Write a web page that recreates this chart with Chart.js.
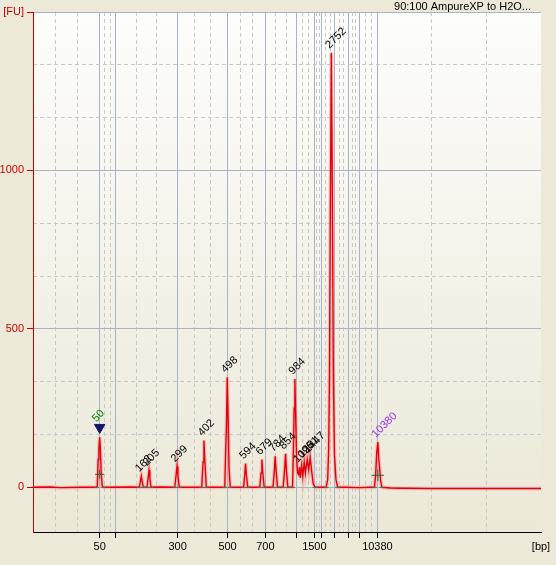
<!DOCTYPE html>
<html><head><meta charset="utf-8">
<script src="https://cdn.jsdelivr.net/npm/chart.js@4/dist/chart.umd.min.js"></script>
<style>html,body{margin:0;padding:0;background:#ECE9D8;overflow:hidden}canvas{display:block}</style>
</head><body>
<canvas id="c" width="556" height="565"></canvas>
<script>
// ---- data (migration time in s, fluorescence in FU) ----
const sampleTitle = '90:100 AmpureXP to H2O...';
const ladderBp   = [50, 100, 300, 500, 700, 1000, 1500, 2000, 3000, 5000, 7000, 10380];
const ladderTime = [50.50, 53.00, 62.77, 70.64, 76.60, 81.53, 84.31, 85.43, 87.49, 89.66, 91.39, 94.24];
const xTickLabels = ['50', '', '300', '500', '700', '', '1500', '', '', '', '', '10380'];
const xUnitLabel = '[bp]';
const yTicks = [0, 500, 1000, 1500];
const yTickLabels = ['0', '500', '1000', '[FU]'];

const traceTime = [40.00,42.74,44.31,47.46,49.98,50.13,50.26,50.37,50.50,50.61,50.73,50.89,51.08,52.18,55.33,
  56.74,56.93,57.06,57.18,57.37,57.95,58.14,58.27,58.40,58.58,60.05,62.33,62.53,62.68,62.82,63.04,64.77,
  66.58,66.78,66.92,67.07,67.29,68.70,70.20,70.32,70.47,70.59,70.73,70.87,71.06,72.01,
  73.16,73.35,73.47,73.60,73.82,74.84,75.71,75.91,76.05,76.19,76.41,77.04,77.80,78.00,78.14,78.29,78.51,
  79.40,79.62,79.77,79.91,80.13,80.87,81.01,81.13,81.24,81.37,81.51,81.68,81.84,81.97,82.11,82.31,82.49,
  82.71,82.90,83.18,83.42,83.65,83.89,84.12,84.44,85.23,86.17,86.41,86.56,86.69,86.83,86.99,87.15,87.30,
  87.48,87.71,87.98,89.16,91.52,93.09,93.77,93.96,94.13,94.31,94.45,94.59,94.75,94.94,96.24,97.81,102.54,110.00,120.00];
const traceFU = [0,1,-1,0,0,5,88,120,158,120,50,5,0,0,1,
  0,20,35,20,0,0,30,54,30,0,1,0,38,66,38,0,0,
  0,80,148,80,0,0,0,100,200,347,220,60,0,0,
  0,40,75,40,0,0,0,45,88,45,0,0,0,50,98,50,0,
  0,55,106,55,0,0,120,250,342,220,90,45,40,64,30,69,35,
  80,45,88,55,95,50,12,0,0,0,25,120,350,900,1371,900,350,
  100,25,0,0,-1,0,0,40,110,143,90,60,20,0,-2,-3,-4,-4,-4];

const peakLabels = ['50','162','205','299','402','498','594','679','784','854','984','1096','1251','1447','2752','10380'];
const peakTime   = [50.50,57.06,58.27,62.68,66.92,70.59,73.47,76.05,78.14,79.77,81.24,81.97,82.71,83.65,86.99,94.31];
const peakFU     = [158,35,54,66,148,347,75,88,98,106,342,64,80,95,1371,143];

const lowerMarker = {label: '50', time: 50.50, fu: 189};
const markerMidTime = [50.50, 94.31];
const markerMidFU   = [41, 38];
const peakBoundTime = [49.98,51.08,56.74,57.37,57.95,58.58,62.33,63.04,66.58,67.29,70.20,71.06,73.16,73.82,
  75.71,76.41,77.80,78.51,79.40,80.13,80.87,84.44,86.17,87.98,93.77,94.94];

// ---- styles ----
const FONT = 'Liberation Sans';
const labelColors = {'50': '#008000', '10380': '#9933ee'};
const RED = '#e3000b';
const AXRED = '#c80000';

Chart.defaults.font.family = FONT;
Chart.defaults.font.size = 11;

function thirds(bounds){
  const out = [];
  for (let i = 0; i < bounds.length - 1; i++){
    const a = bounds[i], b = bounds[i+1];
    out.push(a + (b - a) / 3, a + 2 * (b - a) / 3);
  }
  return out;
}

const pts = traceTime.map((t, i) => ({x: t, y: traceFU[i]}));

const bgPlugin = {
  id: 'bg',
  beforeDraw(chart){
    const {ctx, chartArea: a} = chart;
    const g = ctx.createLinearGradient(0, a.top, 0, a.bottom);
    g.addColorStop(0, '#fdfdfc');
    g.addColorStop(1, '#ebe8d7');
    ctx.save(); ctx.fillStyle = g;
    ctx.fillRect(a.left, a.top, a.right - a.left, a.bottom - a.top);
    ctx.restore();
  }
};

const labelPlugin = {
  id: 'peakLabels',
  afterDatasetsDraw(chart){
    const {ctx, scales: {x, y}, chartArea: a} = chart;
    ctx.save();
    ctx.font = '11px "' + FONT + '"';
    ctx.textAlign = 'left';
    ctx.textBaseline = 'alphabetic';
    peakLabels.forEach((lab, i) => {
      const px = x.getPixelForValue(peakTime[i]);
      let ax = px - 2, ay = y.getPixelForValue(peakFU[i]) - 4;
      if (lab === lowerMarker.label){ ax = px - 3.5; ay = y.getPixelForValue(lowerMarker.fu) - 5; }
      ctx.save();
      ctx.translate(ax, ay);
      ctx.rotate(-Math.PI / 4);
      ctx.fillStyle = labelColors[lab] || '#000';
      ctx.fillText(lab, 0, 0);
      ctx.restore();
    });
    ctx.fillStyle = '#000';
    ctx.textAlign = 'right';
    ctx.fillText(sampleTitle, a.right - 10, a.top - 2);
    ctx.restore();
  }
};

const xBounds = [40, ...ladderTime, 120];
const yBounds = [0, 500, 1000, 1500];

new Chart(document.getElementById('c'), {
  type: 'line',
  data: {
    datasets: [
      { data: [{x: lowerMarker.time, y: lowerMarker.fu}], showLine: false, pointStyle: 'triangle', rotation: 180,
        pointRadius: 6, backgroundColor: '#16166e', borderColor: '#16166e', borderWidth: 1 },
      { data: markerMidTime.map((t, i) => ({x: t, y: markerMidFU[i]})), showLine: false, pointStyle: 'cross',
        pointRadius: [4.5, 6], borderColor: '#2a5a38', borderWidth: 1 },
      { data: peakBoundTime.map(t => ({x: t, y: 0})), showLine: false, pointStyle: 'line',
        pointRadius: 2.5, borderColor: '#4f6f58', borderWidth: 1 },
      { data: pts, borderColor: RED, borderWidth: 1.4, pointRadius: 0, tension: 0, fill: false },
      { data: pts, borderColor: 'rgba(255,120,120,0.35)', borderWidth: 4, pointRadius: 0, tension: 0, fill: false }
    ]
  },
  options: {
    responsive: false, animation: false, devicePixelRatio: 1,
    layout: {padding: {top: 12, right: 15, left: 0, bottom: 0}},
    plugins: {legend: {display: false}, tooltip: {enabled: false}},
    scales: {
      x: {
        type: 'linear', min: 40, max: 120, position: 'bottom',
        afterBuildTicks: s => { s.ticks = [...ladderTime, 120].map(v => ({value: v})); },
        afterFit: s => { s.height = 33; },
        ticks: {autoSkip: false, maxRotation: 0, color: '#000', padding: 2,
          callback: (v, i) => i < xTickLabels.length ? xTickLabels[i] : xUnitLabel},
        grid: {color: c => c.index === ladderTime.length ? 'rgba(0,0,0,0)' : '#a9b3c6',
               tickColor: c => c.index === ladderTime.length ? 'rgba(0,0,0,0)' : '#000',
               tickLength: 6, lineWidth: 1},
        border: {color: '#000', width: 1}
      },
      x2: {
        type: 'linear', min: 40, max: 120, position: 'bottom',
        afterBuildTicks: s => { s.ticks = thirds(xBounds).map(v => ({value: v})); },
        afterFit: s => { s.height = 0; },
        ticks: {display: false},
        grid: {color: '#c8c8c8', drawTicks: false, lineWidth: 1},
        border: {display: false, dash: [4, 3]}
      },
      y: {
        type: 'linear', min: -141, max: 1500, position: 'left',
        afterBuildTicks: s => { s.ticks = yTicks.map(v => ({value: v})); },
        afterFit: s => { s.width = 33; },
        ticks: {color: AXRED, padding: 3, callback: (v, i) => yTickLabels[i]},
        grid: {color: '#a9b3c6', tickColor: AXRED, tickLength: 6, lineWidth: 1},
        border: {color: AXRED, width: 1}
      },
      y2: {
        type: 'linear', min: -141, max: 1500, position: 'left',
        afterBuildTicks: s => { s.ticks = thirds(yBounds).map(v => ({value: v})); },
        afterFit: s => { s.width = 0; },
        ticks: {display: false},
        grid: {color: '#c8c8c8', drawTicks: false, lineWidth: 1},
        border: {display: false, dash: [4, 3]}
      }
    }
  },
  plugins: [bgPlugin, labelPlugin]
});
</script>
</body></html>
